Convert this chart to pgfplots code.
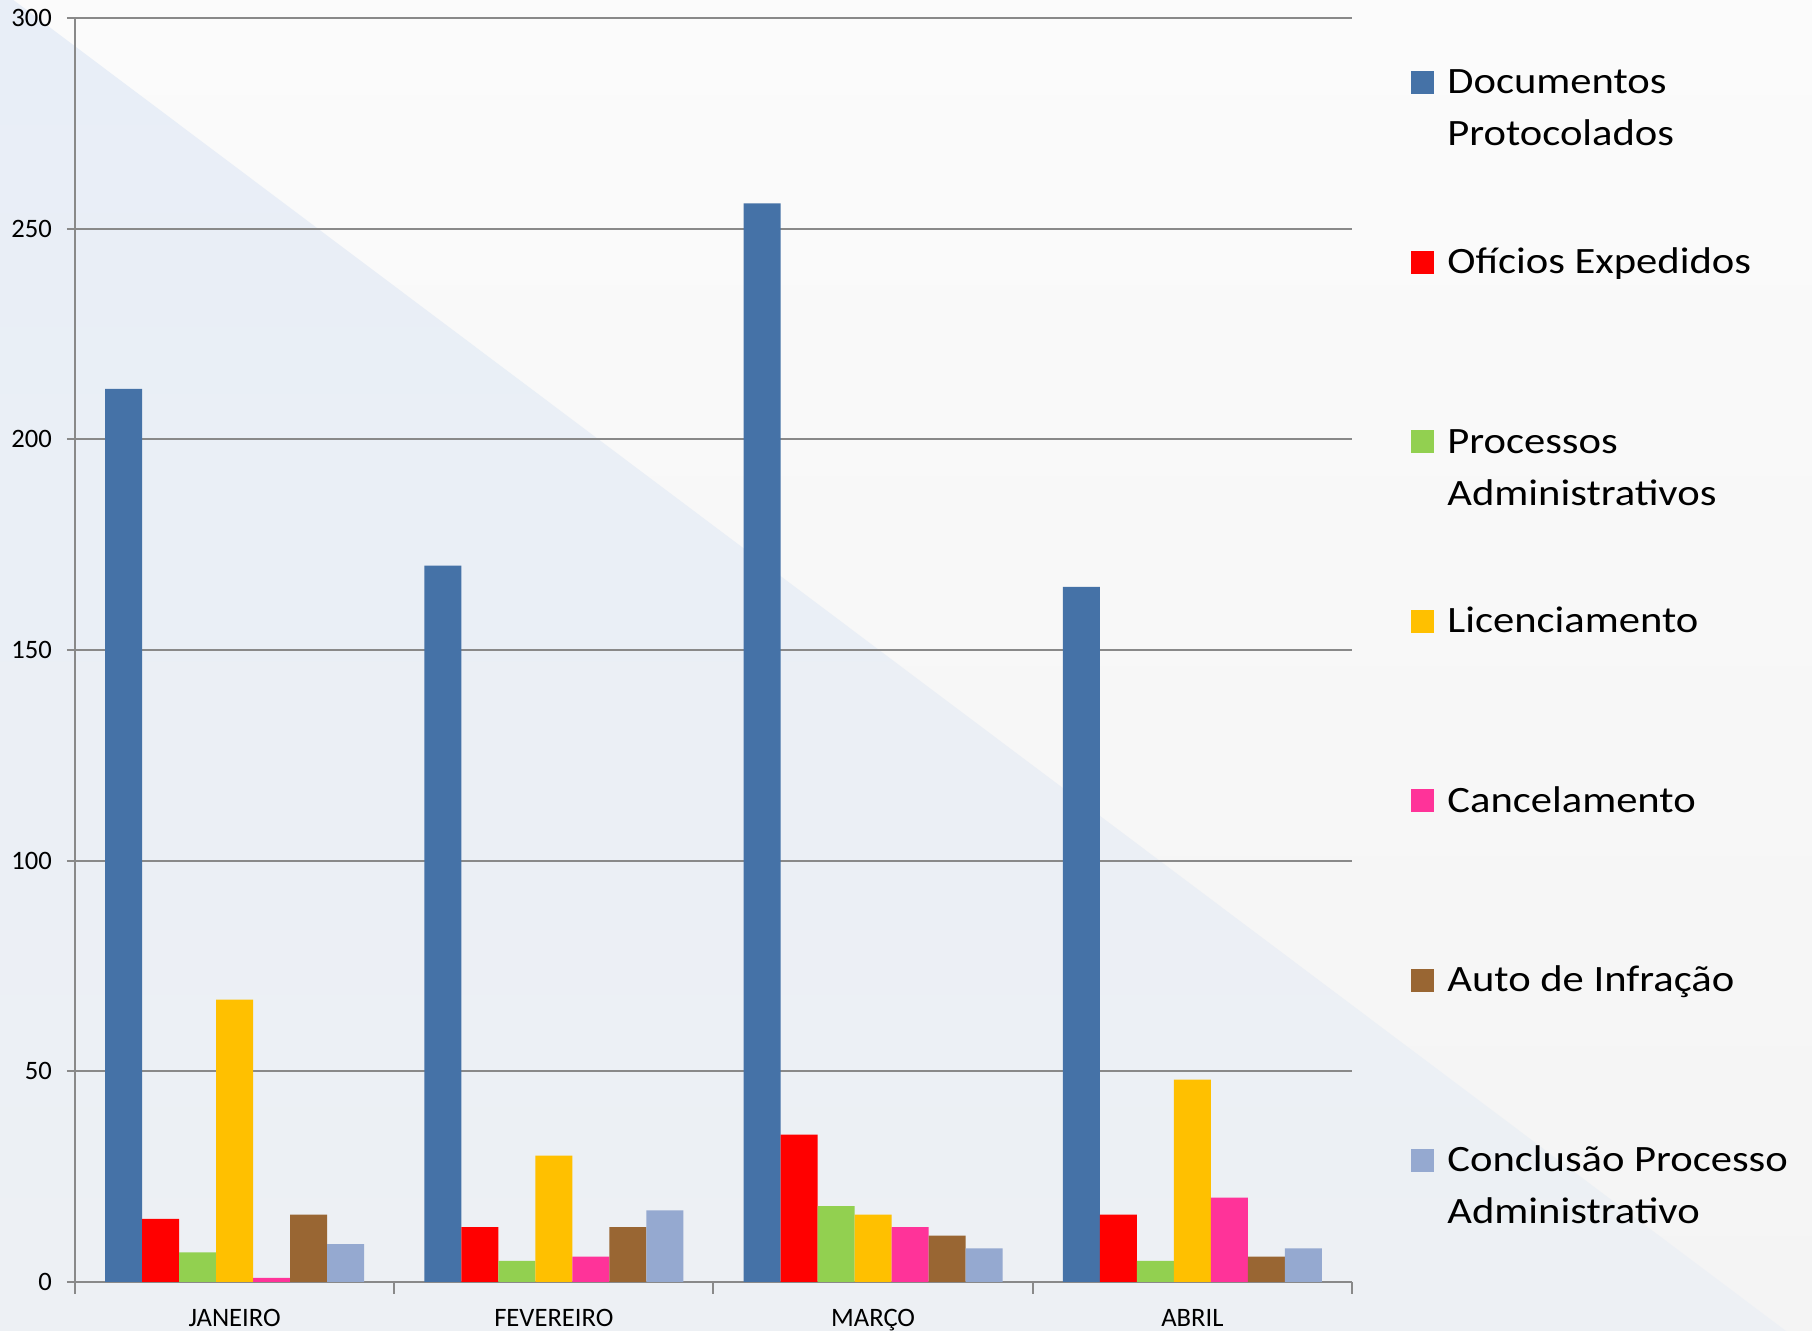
\documentclass[border=0pt]{standalone}
\usepackage{pgfplots}
\pgfplotsset{compat=1.18}
\usepackage{fontspec}
\setmainfont{Carlito}
\newfontfamily\legfont[FakeStretch=1.145]{Carlito}
\definecolor{cA}{HTML}{4572A7}
\definecolor{cB}{HTML}{FF0000}
\definecolor{cC}{HTML}{92D050}
\definecolor{cD}{HTML}{FFC000}
\definecolor{cE}{HTML}{FF3399}
\definecolor{cF}{HTML}{996633}
\definecolor{cG}{HTML}{95A9D0}
\definecolor{axgray}{HTML}{898989}
\definecolor{bgtop}{HTML}{FBFBFB}
\definecolor{bgbot}{HTML}{F4F4F4}
\definecolor{bluetop}{HTML}{E8EEF7}
\definecolor{bluebot}{HTML}{EDF0F4}
\newcommand{\lent}[1]{\parbox[t]{200pt}{\strut #1}}
\begin{document}
\begin{tikzpicture}[x=1pt,y=1pt]
\path[use as bounding box] (0,0) rectangle (906,665.5);
\begin{scope}
\clip (0,0) rectangle (906,665.5);
\shade[top color=bgtop, bottom color=bgbot] (0,0) rectangle (906,665.5);
\shade[top color=bluetop, bottom color=bluebot] (0,670.5) -- (893,0) -- (0,0) -- cycle;
\end{scope}
\begin{axis}[
  at={(37.5pt,24.5pt)}, anchor=south west,
  scale only axis, width=638.5pt, height=632pt,
  ybar=0pt, bar width=18.5pt,
  xmin=-0.5, xmax=3.5, ymin=0, ymax=300,
  ytick={0,50,...,300},
  xtick={0,1,2,3},
  xticklabels={JANEIRO,FEVEREIRO,MARÇO,ABRIL},
  axis x line*=bottom, axis y line*=left,
  axis line style={-, draw=axgray, line width=1pt},
  ymajorgrids, grid style={draw=axgray, line width=1pt},
  tick align=outside, major tick length=4pt,
  tick style={draw=axgray, line width=1pt},
  major x tick style={draw=none},
  extra x ticks={-0.5,0.5,1.5,2.5,3.5},
  extra x tick labels={},
  extra x tick style={major x tick style={draw=axgray, line width=1pt}, major tick length=6pt, grid=none},
  /pgf/number format/assume math mode=true,
  ticklabel style={font=\fontsize{13.3pt}{16pt}\selectfont},
  yticklabel style={xshift=-4pt},
  xticklabel style={yshift=-6pt},
  legend style={at={(axis description cs:1.0462,0.969)}, anchor=north west,
    draw=none, fill=none, inner sep=0pt, row sep=0pt, column sep=6.5pt,
    nodes={inner sep=0pt, anchor=base west, text depth=71.6pt},
    font=\legfont\fontsize{18.6pt}{26pt}\selectfont},
  legend cell align=left,
  legend image code/.code={\path[#1, draw=none] (0pt,0pt) rectangle (11.5pt,11.5pt);},
]
\addplot[fill=cA, draw=none] coordinates {(0,212) (1,170) (2,256) (3,165)};
\addlegendentry{\lent{Documentos\\Protocolados}}
\addplot[fill=cB, draw=none] coordinates {(0,15) (1,13) (2,35) (3,16)};
\addlegendentry{\lent{Ofícios Expedidos}}
\addplot[fill=cC, draw=none] coordinates {(0,7) (1,5) (2,18) (3,5)};
\addlegendentry{\lent{Processos\\Administrativos}}
\addplot[fill=cD, draw=none] coordinates {(0,67) (1,30) (2,16) (3,48)};
\addlegendentry{\lent{Licenciamento}}
\addplot[fill=cE, draw=none] coordinates {(0,1) (1,6) (2,13) (3,20)};
\addlegendentry{\lent{Cancelamento}}
\addplot[fill=cF, draw=none] coordinates {(0,16) (1,13) (2,11) (3,6)};
\addlegendentry{\lent{Auto de Infração}}
\addplot[fill=cG, draw=none] coordinates {(0,9) (1,17) (2,8) (3,8)};
\addlegendentry{\lent{Conclusão Processo\\Administrativo}}
\end{axis}
\end{tikzpicture}
\end{document}
